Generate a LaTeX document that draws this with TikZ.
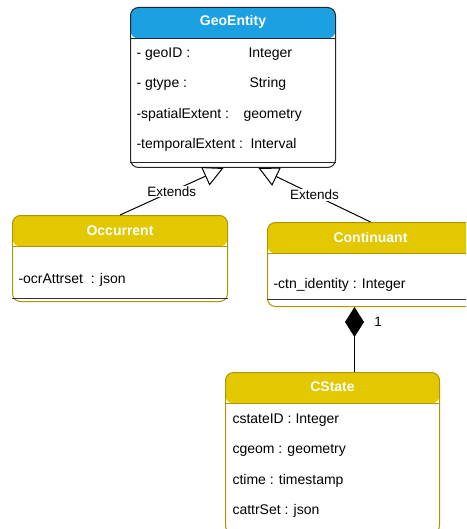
\documentclass[tikz,border=0pt]{standalone}
\usepackage{fontspec}
\setmainfont{Liberation Sans}
\usetikzlibrary{arrows.meta}
\definecolor{geoblue}{RGB}{27,161,226}
\definecolor{classyellow}{RGB}{227,200,0}
\definecolor{classgold}{RGB}{176,149,0}

\begin{document}
\begin{tikzpicture}[x=1pt,y=-1pt,line width=1pt]

%
% Styles
%
\tikzstyle{umlclass} = [rectangle,rounded corners=8pt,fill=white,anchor=north west,inner sep=0pt]
\tikzstyle{blueclass} = [umlclass,draw=black!85,path picture={
  \fill[geoblue] (path picture bounding box.north west) rectangle ([yshift=-31pt]path picture bounding box.north east);
  \draw[black!85] ([yshift=-31pt]path picture bounding box.north west) -- ([yshift=-31pt]path picture bounding box.north east);}]
\tikzstyle{yellowclass} = [umlclass,draw=classgold,path picture={
  \fill[classyellow] (path picture bounding box.north west) rectangle ([yshift=-31pt]path picture bounding box.north east);
  \draw[classgold] ([yshift=-31pt]path picture bounding box.north west) -- ([yshift=-31pt]path picture bounding box.north east);}]
\tikzstyle{classtitle} = [text=white,font=\fontsize{14}{16}\selectfont\bfseries,inner sep=0pt]
\tikzstyle{attr} = [anchor=west,font=\fontsize{14}{16}\selectfont,inner sep=0pt,text height=10pt,text depth=3pt]
\tikzstyle{elabel} = [fill=white,font=\fontsize{13.5}{16}\selectfont,inner sep=1pt]

\clip (0,0) rectangle (466,529);

% classes
\node[blueclass,minimum width=205pt,minimum height=160pt] (geo) at (130,7) {};
\node[yellowclass,minimum width=215pt,minimum height=86pt] (occ) at (12,215) {};
\node[yellowclass,minimum width=206pt,minimum height=84pt] (cont) at (267,222) {};
\node[yellowclass,minimum width=214pt,minimum height=161pt] (cst) at (225,372) {};

\draw[black!85] ([yshift=5pt]geo.south west) -- ([yshift=5pt]geo.south east);
\draw[black!80] ([yshift=4pt]occ.south west) -- ([yshift=4pt]occ.south east);
\draw[black!80] ([yshift=8pt]cont.south west) -- ([yshift=8pt]cont.south east);
\draw[black!80] ([yshift=5pt]cst.south west) -- ([yshift=5pt]cst.south east);

\node[classtitle] (geot)  at ([yshift=-15pt]geo.north)  {GeoEntity};
\node[classtitle] (occt)  at ([yshift=-16pt]occ.north)  {Occurrent};
\node[classtitle] (contt) at ([yshift=-15pt]cont.north) {Continuant};
\node[classtitle] (cstt)  at ([yshift=-15pt]cst.north)  {CState};

% attributes
\node[attr] (geoid)   at (136, 54.5) {- geoID :};
\node[attr] (geoidT)  at (248, 54.5) {Integer};
\node[attr] (gtype)   at (136, 84.5) {- gtype :};
\node[attr] (gtypeT)  at (249, 84.5) {String};
\node[attr] (spat)    at (136,115.5) {-spatialExtent :};
\node[attr] (spatT)   at (243,115.5) {geometry};
\node[attr] (temp)    at (136,145.5) {-temporalExtent :};
\node[attr] (tempT)   at (250,145.5) {Interval};

\node[attr] (ocr)     at (18,279.5)  {-ocrAttrset\ \ : json};
\node[attr] (ctn)     at (273,284.5) {-ctn\_identity : Integer};

\node[attr] (cstid)   at (232,419.5) {cstateID : Integer};
\node[attr] (cgeom)   at (232,449.5) {cgeom : geometry};
\node[attr] (ctime)   at (232,480.5) {ctime : timestamp};
\node[attr] (cattr)   at (232,510.5) {cattrSet : json};

% relations
\draw[-{Triangle[open,length=20pt,width=20pt]}] (occ.north) -- node[elabel] (ext1) {Extends} ([xshift=-9.5pt]geo.south);
\draw[-{Triangle[open,length=20pt,width=20pt]}] (cont.north) -- node[elabel] (ext2) {Extends} ([xshift=25.5pt]geo.south);
\draw[-{Diamond[length=30pt,width=19pt]}] ([xshift=22pt]cst.north) -- ([xshift=-16pt]cont.south);
\node[font=\fontsize{13.5}{16}\selectfont] (one) at (378,322) {1};

\end{tikzpicture}
\end{document}
